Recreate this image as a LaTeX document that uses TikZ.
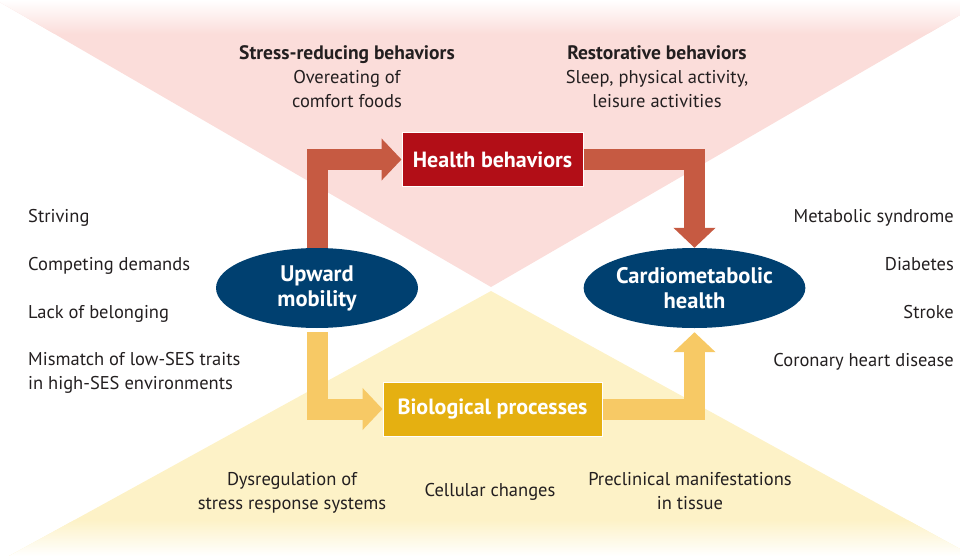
\documentclass[tikz,border=0pt]{standalone}
\usepackage{fontspec}
\setmainfont{PT Sans}
\usetikzlibrary{arrows.meta,shapes.geometric}

\definecolor{tripink}{RGB}{251,221,218}
\definecolor{triyellow}{RGB}{253,242,199}
\definecolor{boxred}{RGB}{178,14,23}
\definecolor{arrred}{RGB}{198,90,66}
\definecolor{boxgold}{RGB}{229,176,17}
\definecolor{arrgold}{RGB}{247,201,101}
\definecolor{deepblue}{RGB}{0,64,112}
\definecolor{inkgray}{RGB}{35,31,32}

\newcommand{\headline}[1]{{\fontsize{19.5}{24}\selectfont\bfseries #1}}

\begin{document}
\begin{tikzpicture}[x=1pt,y=-1pt,
    txt/.style={font=\fontsize{18.5}{24}\selectfont,text=inkgray,inner sep=0pt},
    box/.style={draw=white,line width=1pt,minimum height=54pt,inner sep=0pt,
                text=white,font=\fontsize{22}{24}\selectfont\bfseries},
    blob/.style={ellipse,fill=deepblue,minimum width=202pt,minimum height=80pt,
                 inner sep=0pt,align=center,text=white,
                 font=\fontsize{22.5}{25}\selectfont\bfseries},
    fat/.style={line width=21pt,line join=miter,
                -{Triangle[width=41pt,length=20pt]}}]
  \clip (0,0) rectangle (960,556);

  % background triangles, faded at the page edge
  \begin{scope}
    \clip (-4,0) -- (491,287) -- (986,0) -- cycle;
    \fill[tripink] (0,0) rectangle (960,300);
    \shade[top color=white,bottom color=tripink] (0,0) rectangle (960,34);
  \end{scope}
  \begin{scope}
    \clip (9,556) -- (491,291) -- (973,556) -- cycle;
    \fill[triyellow] (0,280) rectangle (960,556);
    \shade[top color=triyellow,bottom color=white] (0,520) rectangle (960,556);
  \end{scope}

  \node[blob]               (up)     at (317,288)   {Upward\\mobility};
  \node[blob]               (cardio) at (694.5,288) {Cardiometabolic\\health};
  \node[box,fill=boxred,minimum width=181pt]  (health) at (492.5,159.5) {Health behaviors};
  \node[box,fill=boxgold,minimum width=219pt] (bio)    at (492.5,409)   {Biological processes};

  \node[txt,align=center,anchor=north] (stress)  at (347,45)
       {\headline{Stress-reducing behaviors}\\Overeating of\\comfort foods};
  \node[txt,align=center,anchor=north] (restore) at (657,45)
       {\headline{Restorative behaviors}\\Sleep, physical activity,\\leisure activities};

  \node[txt,anchor=base west] (striv)    at (28,222) {Striving};
  \node[txt,anchor=base west] (compete)  at (28,270) {Competing demands};
  \node[txt,anchor=base west] (belong)   at (28,318) {Lack of belonging};
  \node[txt,anchor=north west,align=left] (mismatch) at (28,352)
       {Mismatch of low-SES traits\\in high-SES environments};

  \node[txt,anchor=base east] (metab)  at (954,222) {Metabolic syndrome};
  \node[txt,anchor=base east] (diab)   at (954,270) {Diabetes};
  \node[txt,anchor=base east] (stroke) at (954,318) {Stroke};
  \node[txt,anchor=base east] (chd)    at (954,366) {Coronary heart disease};

  \node[txt,align=center,anchor=north] (dysreg)  at (292,472)
       {Dysregulation of\\stress response systems};
  \node[txt,anchor=base]               (cell)    at (490,496) {Cellular changes};
  \node[txt,align=center,anchor=north] (preclin) at (690,472)
       {Preclinical manifestations\\in tissue};

  \draw[fat,arrred]  (up.north) |- (health.west);
  \draw[fat,arrred]  (health.east) -| (cardio.north);
  \draw[fat,arrgold,shorten <=4pt] (up.south) |- (bio.west);
  \draw[fat,arrgold,shorten >=4pt] (bio.east) -| (cardio.south);
\end{tikzpicture}
\end{document}
